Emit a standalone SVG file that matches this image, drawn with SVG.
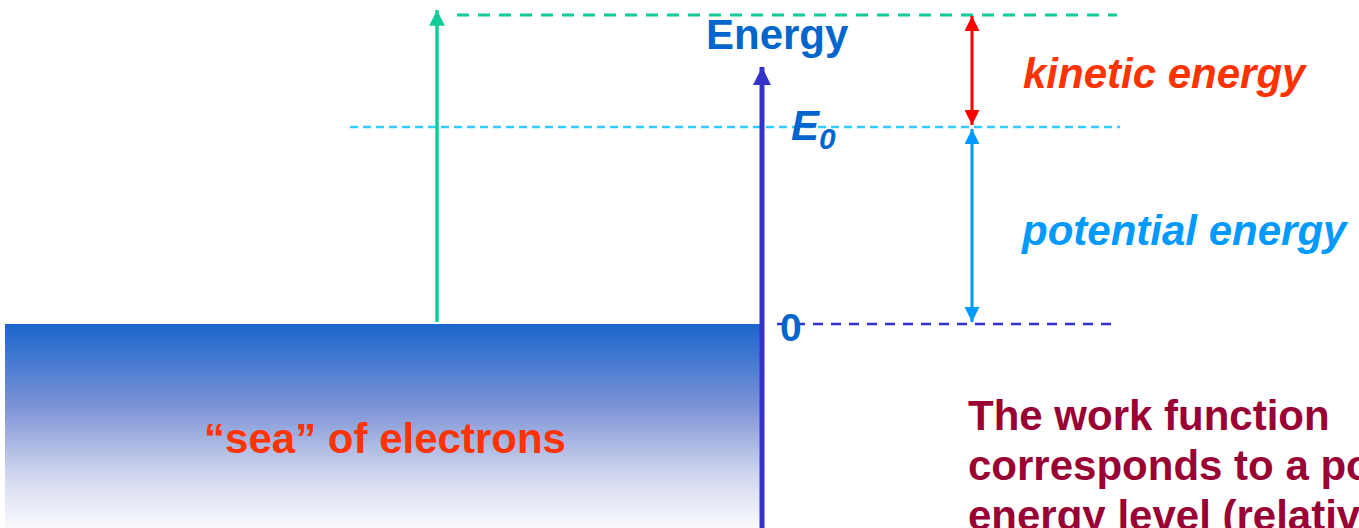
<svg xmlns="http://www.w3.org/2000/svg" width="1359" height="528" viewBox="0 0 1359 528">
<defs>
<linearGradient id="sea" x1="0" y1="0" x2="0" y2="1">
<stop offset="0" stop-color="#1a66cc"/>
<stop offset="0.4" stop-color="#7b92d6"/>
<stop offset="0.75" stop-color="#d2d8ee"/>
<stop offset="1" stop-color="#fafafd"/>
</linearGradient>
<marker id="hGreen" viewBox="0 0 10 10" refX="10" refY="5" markerWidth="5.5" markerHeight="4.5" orient="auto" markerUnits="strokeWidth"><path d="M0,0 L10,5 L0,10 z" fill="#11cc99"/></marker>
<marker id="hAxis" viewBox="0 0 10 10" refX="10" refY="5" markerWidth="6" markerHeight="3.6" orient="auto" markerUnits="strokeWidth"><path d="M0,0 L10,5 L0,10 z" fill="#3333cc"/></marker>
<marker id="hRed" viewBox="0 0 10 10" refX="10" refY="5" markerWidth="5" markerHeight="5" orient="auto-start-reverse" markerUnits="strokeWidth"><path d="M0,0 L10,5 L0,10 z" fill="#ff0000"/></marker>
<marker id="hBlue" viewBox="0 0 10 10" refX="10" refY="5" markerWidth="5" markerHeight="5" orient="auto-start-reverse" markerUnits="strokeWidth"><path d="M0,0 L10,5 L0,10 z" fill="#0099ff"/></marker>
</defs>
<style>
text { font-family: "Liberation Sans", Arial, sans-serif; font-weight: bold; }
.lbl { font-size: 42px; }
.it { font-style: italic; }
</style>
<g id="sea-block">
<rect x="5" y="324" width="757" height="204" fill="url(#sea)"/>
<text class="lbl" x="385" y="453" text-anchor="middle" fill="#ff3300">“sea” of electrons</text>
</g>
<g id="connectors">
<line x1="457" y1="15" x2="1117" y2="15" stroke="#11cc99" stroke-width="3" stroke-dasharray="12 9"/>
<line x1="350" y1="127" x2="1120" y2="127" stroke="#33ccff" stroke-width="2.5" stroke-dasharray="8 5"/>
<line x1="777" y1="324" x2="1117" y2="324" stroke="#3333cc" stroke-width="2.5" stroke-dasharray="10 8"/>
<line x1="437" y1="322" x2="437" y2="10" stroke="#11cc99" stroke-width="3.5" marker-end="url(#hGreen)"/>
<line x1="762" y1="528" x2="762" y2="67" stroke="#3333cc" stroke-width="5" marker-end="url(#hAxis)"/>
<line x1="972" y1="16" x2="972" y2="125" stroke="#ff0000" stroke-width="3" marker-start="url(#hRed)" marker-end="url(#hRed)"/>
<line x1="972" y1="129" x2="972" y2="322" stroke="#0099ff" stroke-width="3" marker-start="url(#hBlue)" marker-end="url(#hBlue)"/>
</g>
<g id="energy-label">
<text x="706" y="49" font-size="42" fill="#0066cc">Energy</text>
</g>
<g id="e0-label">
<text x="791" y="140" font-size="42" fill="#0066cc" class="it">E<tspan font-size="30" dy="9">0</tspan></text>
</g>
<g id="zero-label">
<text x="780" y="341" font-size="39" fill="#0066cc">0</text>
</g>
<g id="kinetic-label">
<text class="lbl it" x="1023" y="88" fill="#ff3300">kinetic energy</text>
</g>
<g id="potential-label">
<text class="lbl it" x="1022" y="245" fill="#0099ff">potential energy</text>
</g>
<g id="work-function-text" fill="#990033">
<text class="lbl" x="968" y="430">The work function</text>
<text class="lbl" x="968" y="480">corresponds to a po</text>
<text class="lbl" x="968" y="530">energy level (relativ</text>
</g>
</svg>
